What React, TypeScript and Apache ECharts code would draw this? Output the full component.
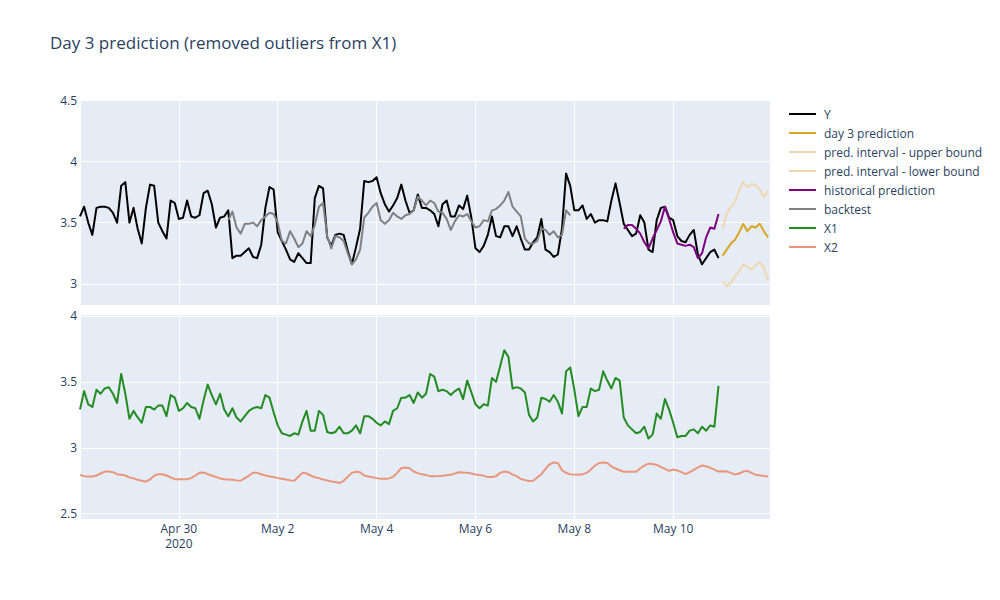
import React, { useEffect, useRef } from "react";
import * as echarts from "echarts";

// ---- time grid (2-hour steps from Apr 28 2020 00:00 UTC) ----
const START = Date.UTC(2020, 3, 28);
const HOUR = 3600000;
const DAY = 86400000;
const STEP_H = 2;
const END = START + 335 * HOUR;

const xTickLabels = ["Apr 30\n2020", "May 2", "May 4", "May 6", "May 8", "May 10"];
const topYTicks = [3, 3.5, 4, 4.5];
const bottomYTicks = [2.5, 3, 3.5, 4];

// ---- series (index offsets are in 2-hour steps) ----
const yStart = 0;
const yValues = [
  3.55, 3.63, 3.50, 3.40, 3.62, 3.63, 3.63, 3.62, 3.58, 3.50,
  3.80, 3.83, 3.50, 3.62, 3.45, 3.33, 3.62, 3.81, 3.80, 3.50,
  3.43, 3.37, 3.68, 3.66, 3.53, 3.54, 3.68, 3.55, 3.54, 3.56,
  3.74, 3.76, 3.65, 3.46, 3.54, 3.55, 3.60, 3.21, 3.23, 3.23,
  3.26, 3.29, 3.22, 3.21, 3.32, 3.62, 3.79, 3.77, 3.42, 3.35,
  3.28, 3.20, 3.18, 3.25, 3.21, 3.17, 3.17, 3.70, 3.80, 3.78,
  3.38, 3.31, 3.40, 3.41, 3.40, 3.27, 3.16, 3.30, 3.45, 3.84,
  3.83, 3.84, 3.87, 3.74, 3.65, 3.59, 3.64, 3.70, 3.81, 3.68,
  3.58, 3.60, 3.73, 3.62, 3.62, 3.60, 3.57, 3.47, 3.65, 3.68,
  3.55, 3.55, 3.64, 3.61, 3.72, 3.54, 3.29, 3.26, 3.31, 3.40,
  3.55, 3.39, 3.38, 3.47, 3.47, 3.39, 3.47, 3.37, 3.28, 3.28,
  3.34, 3.38, 3.53, 3.28, 3.26, 3.22, 3.24, 3.45, 3.90, 3.80,
  3.60, 3.60, 3.64, 3.53, 3.57, 3.50, 3.52, 3.52, 3.51, 3.68,
  3.82, 3.66, 3.49, 3.44, 3.39, 3.41, 3.56, 3.50, 3.28, 3.26,
  3.52, 3.62, 3.63, 3.54, 3.52, 3.39, 3.35, 3.34, 3.40, 3.44,
  3.24, 3.16, 3.21, 3.26, 3.28, 3.21,
];

const predStart = 156;
const predValues = [3.23, 3.28, 3.33, 3.36, 3.42, 3.49, 3.43, 3.47, 3.46, 3.49, 3.43, 3.38];
const upperValues = [3.45, 3.57, 3.63, 3.67, 3.76, 3.83, 3.79, 3.81, 3.81, 3.77, 3.71, 3.76];
const lowerValues = [3.02, 2.98, 3.01, 3.06, 3.10, 3.16, 3.14, 3.12, 3.15, 3.18, 3.13, 3.03];

const histStart = 132;
const histValues = [
  3.45, 3.48, 3.48, 3.45, 3.41, 3.34, 3.29, 3.37, 3.44, 3.51,
  3.63, 3.53, 3.42, 3.33, 3.32, 3.31, 3.32, 3.30, 3.21, 3.25,
  3.38, 3.46, 3.45, 3.57,
];

const backStart = 36;
const backValues = [
  3.52, 3.59, 3.46, 3.41,
  3.49, 3.49, 3.50, 3.47, 3.52, 3.55, 3.58, 3.57, 3.50, 3.35,
  3.33, 3.43, 3.37, 3.30, 3.33, 3.43, 3.39, 3.48, 3.63, 3.66,
  3.39, 3.29, 3.39, 3.38, 3.35, 3.25, 3.16, 3.20, 3.28, 3.54,
  3.58, 3.63, 3.66, 3.52, 3.49, 3.52, 3.58, 3.55, 3.53, 3.56,
  3.57, 3.60, 3.71, 3.68, 3.64, 3.68, 3.66, 3.59, 3.58, 3.53,
  3.44, 3.51, 3.56, 3.55, 3.57, 3.51, 3.46, 3.47, 3.52, 3.51,
  3.60, 3.61, 3.64, 3.68, 3.75, 3.63, 3.59, 3.55, 3.37, 3.33,
  3.33, 3.35, 3.45, 3.44, 3.40, 3.43, 3.38, 3.40, 3.60, 3.56,
];

const x1Start = 0;
const x1Values = [
  3.29, 3.43, 3.33, 3.31, 3.44, 3.41, 3.45, 3.46, 3.41, 3.34,
  3.56, 3.41, 3.22, 3.28, 3.23, 3.19, 3.31, 3.31, 3.29, 3.32,
  3.32, 3.24, 3.40, 3.38, 3.28, 3.30, 3.34, 3.31, 3.30, 3.22,
  3.36, 3.48, 3.40, 3.33, 3.41, 3.29, 3.24, 3.30, 3.23, 3.20,
  3.24, 3.28, 3.30, 3.31, 3.30, 3.40, 3.38, 3.27, 3.17, 3.11,
  3.10, 3.09, 3.11, 3.10, 3.20, 3.28, 3.13, 3.13, 3.28, 3.25,
  3.12, 3.11, 3.12, 3.16, 3.11, 3.11, 3.13, 3.17, 3.11, 3.24,
  3.24, 3.22, 3.19, 3.17, 3.20, 3.18, 3.28, 3.30, 3.38, 3.38,
  3.40, 3.34, 3.42, 3.38, 3.41, 3.56, 3.54, 3.43, 3.44, 3.43,
  3.40, 3.43, 3.45, 3.37, 3.51, 3.42, 3.33, 3.30, 3.33, 3.32,
  3.53, 3.50, 3.62, 3.74, 3.69, 3.45, 3.46, 3.45, 3.42, 3.25,
  3.20, 3.23, 3.38, 3.37, 3.35, 3.40, 3.35, 3.26, 3.58, 3.61,
  3.44, 3.24, 3.31, 3.31, 3.45, 3.43, 3.44, 3.58, 3.51, 3.45,
  3.53, 3.51, 3.23, 3.17, 3.14, 3.11, 3.12, 3.16, 3.07, 3.10,
  3.26, 3.22, 3.37, 3.29, 3.19, 3.08, 3.09, 3.09, 3.13, 3.14,
  3.11, 3.16, 3.13, 3.17, 3.16, 3.47,
];

const x2Start = 0;
const x2Values = [
  2.795, 2.785, 2.783, 2.783, 2.79, 2.805, 2.82, 2.82, 2.815, 2.80,
  2.795, 2.79, 2.775, 2.768, 2.757, 2.75, 2.743, 2.76, 2.788, 2.80,
  2.80, 2.79, 2.775, 2.762, 2.762, 2.762, 2.762, 2.77, 2.79, 2.81,
  2.813, 2.80, 2.79, 2.778, 2.768, 2.762, 2.76, 2.757, 2.753, 2.75,
  2.77, 2.788, 2.81, 2.81, 2.80, 2.79, 2.783, 2.778, 2.77, 2.765,
  2.76, 2.753, 2.75, 2.78, 2.81, 2.805, 2.79, 2.776, 2.77, 2.76,
  2.753, 2.745, 2.74, 2.733, 2.75, 2.78, 2.81, 2.818, 2.815, 2.79,
  2.783, 2.776, 2.77, 2.765, 2.765, 2.768, 2.78, 2.81, 2.846, 2.85,
  2.845, 2.82, 2.808, 2.80, 2.793, 2.785, 2.785, 2.786, 2.788, 2.791,
  2.795, 2.805, 2.815, 2.812, 2.81, 2.805, 2.798, 2.794, 2.789, 2.778,
  2.778, 2.785, 2.81, 2.82, 2.815, 2.797, 2.785, 2.763, 2.755, 2.748,
  2.75, 2.775, 2.80, 2.84, 2.875, 2.889, 2.885, 2.83, 2.81, 2.80,
  2.797, 2.795, 2.80, 2.81, 2.835, 2.865, 2.885, 2.889, 2.885, 2.86,
  2.843, 2.83, 2.818, 2.818, 2.818, 2.818, 2.845, 2.865, 2.88, 2.878,
  2.87, 2.855, 2.84, 2.825, 2.835, 2.828, 2.815, 2.80, 2.815, 2.832,
  2.852, 2.866, 2.86, 2.848, 2.835, 2.82, 2.822, 2.82, 2.81, 2.797,
  2.805, 2.82, 2.825, 2.81, 2.795, 2.792, 2.787, 2.783,
];

const FONT = '"Open Sans", verdana, arial, sans-serif';
const TEXT = "#2a3f5f";

const toPairs = (start: number, vals: number[]) =>
  vals.map((v, i) => [START + (start + i) * STEP_H * HOUR, v]);

const lineSeries = (
  name: string,
  data: number[][],
  color: string,
  axis: number
) => ({
  type: "line",
  name,
  data,
  xAxisIndex: axis,
  yAxisIndex: axis,
  symbol: "none",
  showSymbol: false,
  clip: true,
  lineStyle: { color, width: 2, join: "round" },
  itemStyle: { color },
  emphasis: { disabled: true },
});

export default function App() {
  const ref = useRef<HTMLDivElement>(null);
  useEffect(() => {
    if (!ref.current) return;
    const chart = echarts.init(ref.current, null, { renderer: "svg" });

    const xAxisBase = (i: number) => ({
      type: "value",
      gridIndex: i,
      min: START,
      max: END,
      interval: 2 * DAY,
      axisLine: { show: false },
      axisTick: { show: false },
      splitLine: { show: true, lineStyle: { color: "#ffffff", width: 1 } },
      axisLabel:
        i === 0
          ? { show: false }
          : {
              show: true,
              margin: 2,
              color: TEXT,
              fontFamily: FONT,
              fontSize: 12,
              lineHeight: 15,
              showMinLabel: true,
              showMaxLabel: true,
              formatter: (v: number) => {
                const off = v - START;
                if (off % (2 * DAY) !== 0) return "";
                const idx = Math.round(off / (2 * DAY)) - 1;
                return idx >= 0 && idx < xTickLabels.length ? xTickLabels[idx] : "";
              },
            },
    });

    const yAxisBase = (i: number, min: number, max: number, ticks: number[]) => ({
      type: "value",
      gridIndex: i,
      min,
      max,
      minInterval: 0.5,
      maxInterval: 0.5,
      splitNumber: 3,
      axisLine: { show: false },
      axisTick: { show: false },
      splitLine: { show: true, lineStyle: { color: "#ffffff", width: 1 } },
      axisLabel: {
        margin: 3,
        color: TEXT,
        fontFamily: FONT,
        fontSize: 12,
        formatter: (v: number) => {
          const t = ticks.find((k) => Math.abs(k - v) < 1e-9);
          return t === undefined ? "" : String(t);
        },
      },
    });

    const option = {
      animation: false,
      backgroundColor: "#ffffff",
      title: {
        text: "Day 3 prediction (removed outliers from X1)",
        left: 50,
        top: 34,
        padding: 0,
        textStyle: { fontFamily: FONT, fontSize: 17, fontWeight: "normal", color: TEXT },
      },
      legend: {
        orient: "vertical",
        left: 788,
        top: 108,
        padding: 0,
        itemWidth: 27,
        itemHeight: 12,
        itemGap: 7,
        selectedMode: false,
        itemStyle: { opacity: 0 },
        textStyle: { fontFamily: FONT, fontSize: 12, color: TEXT, padding: [0, 0, 0, 3] },
        data: [
          "Y",
          "day 3 prediction",
          "pred. interval - upper bound",
          "pred. interval - lower bound",
          "historical prediction",
          "backtest",
          "X1",
          "X2",
        ],
      },
      grid: [
        { left: 80, top: 100, width: 690, height: 205, show: true, backgroundColor: "#E5ECF6", borderWidth: 0 },
        { left: 80, top: 314, width: 690, height: 205, show: true, backgroundColor: "#E5ECF6", borderWidth: 0 },
      ],
      xAxis: [xAxisBase(0), xAxisBase(1)],
      yAxis: [
        yAxisBase(0, 2.828, 4.5, topYTicks),
        yAxisBase(1, 2.46, 4.015, bottomYTicks),
      ],
      series: [
        lineSeries("Y", toPairs(yStart, yValues), "#000000", 0),
        lineSeries("day 3 prediction", toPairs(predStart, predValues), "#DAA520", 0),
        lineSeries("pred. interval - upper bound", toPairs(predStart, upperValues), "#F1D6B0", 0),
        lineSeries("pred. interval - lower bound", toPairs(predStart, lowerValues), "#F1D6B0", 0),
        lineSeries("historical prediction", toPairs(histStart, histValues), "#800080", 0),
        lineSeries("backtest", toPairs(backStart, backValues), "#808080", 0),
        lineSeries("X1", toPairs(x1Start, x1Values), "#228B22", 1),
        lineSeries("X2", toPairs(x2Start, x2Values), "#E9967A", 1),
      ],
    };

    chart.setOption(option as any);
    return () => chart.dispose();
  }, []);

  return (
    <div
      ref={ref}
      style={{ position: "fixed", left: 0, top: 0, width: 1000, height: 600 }}
    />
  );
}
